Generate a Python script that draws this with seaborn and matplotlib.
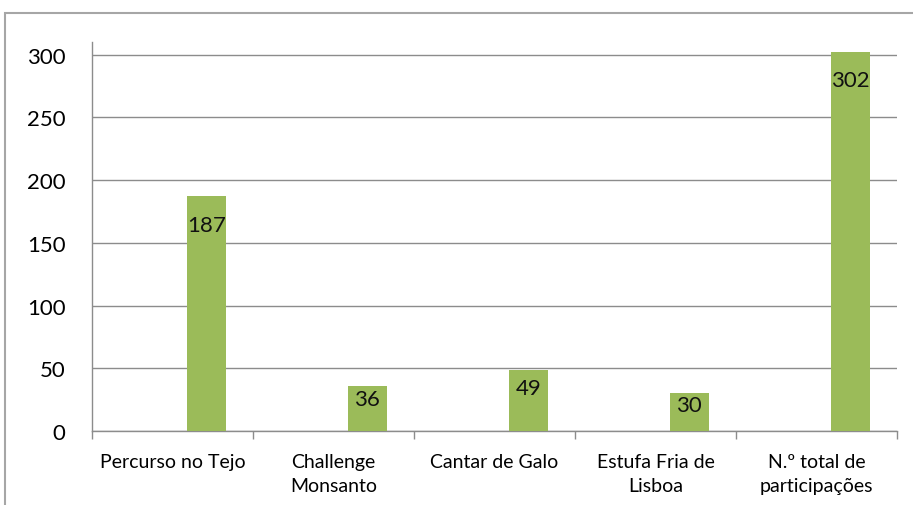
import matplotlib
matplotlib.use("Agg")
import matplotlib.pyplot as plt
import seaborn as sns
import pandas as pd
from matplotlib.patches import Rectangle
from matplotlib.ticker import MultipleLocator, FixedLocator

categories = ["Percurso no Tejo", "Challenge\nMonsanto", "Cantar de Galo",
              "Estufa Fria de\nLisboa", "N.º total de\nparticipações"]
values = [187, 36, 49, 30, 302]
hidden = [0, 0, 0, 0, 0]
series_names = ["_blank", "Participações"]

df = pd.DataFrame({
    "cat": categories * 2,
    "val": hidden + values,
    "serie": [series_names[0]] * len(categories) + [series_names[1]] * len(categories),
})

sns.set_theme(style="white")
plt.rcParams["font.family"] = ["Lato", "DejaVu Sans"]

fig = plt.figure(figsize=(9.13, 5.06), dpi=100)
ax = fig.add_axes([0.1008, 0.1462, 0.9825 - 0.1008, 0.915 - 0.1462])

GREEN = "#9BBB59"
GRID = "#8C8C8C"

sns.barplot(data=df, x="cat", y="val", hue="serie", order=categories,
            hue_order=series_names, palette={series_names[0]: "white", series_names[1]: GREEN},
            saturation=1, width=0.84, gap=0.43, linewidth=0, legend=False, ax=ax, zorder=3)

ax.set_ylim(0, 310)
ax.set_xlim(-0.5, len(categories) - 0.5)
ax.yaxis.set_major_locator(MultipleLocator(50))
ax.grid(axis="y", color=GRID, linewidth=1.0, zorder=0)
ax.set_axisbelow(True)
ax.set_xlabel("")
ax.set_ylabel("")

for s in ["top", "right"]:
    ax.spines[s].set_visible(False)
for s in ["left", "bottom"]:
    ax.spines[s].set_color(GRID)
    ax.spines[s].set_linewidth(1.0)

ax.tick_params(axis="y", length=6, color=GRID, width=1, pad=13, labelsize=16, labelcolor="#000000")
ax.tick_params(axis="x", which="major", length=0, pad=16, labelsize=14, labelcolor="#000000")
ax.xaxis.set_minor_locator(FixedLocator([i - 0.5 for i in range(len(categories) + 1)]))
ax.tick_params(axis="x", which="minor", length=6, color=GRID, width=1, bottom=True)
for lab in ax.get_xticklabels():
    lab.set_linespacing(1.45)

# data labels inside bar ends
for patch, v in zip(ax.containers[1], values):
    cx = patch.get_x() + patch.get_width() / 2
    y = v - min(22.5, 0.3 * v)
    ax.text(cx, y, f"{v}", ha="center", va="center", fontsize=16, color="#111111", zorder=5)

# outer chart border
fig.patches.append(Rectangle((5 / 913, -0.2), 1.3, 1.2 - 14 / 506,
                             transform=fig.transFigure, fill=False,
                             edgecolor="#A6A6A6", linewidth=1.5))

fig.savefig("out.png", dpi=100)
